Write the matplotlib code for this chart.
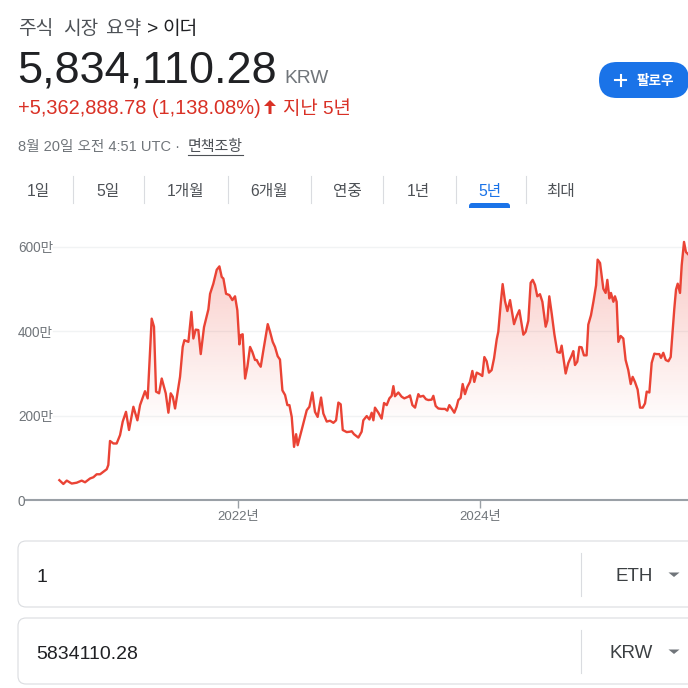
import numpy as np
import matplotlib
matplotlib.use("Agg")
from matplotlib import pyplot as plt
from matplotlib import patches
from matplotlib.colors import to_rgb

plt.rcParams['font.family'] = ['Liberation Sans', 'Noto Sans CJK KR', 'DejaVu Sans']

# ETH/KRW price, 5 years, in 만원 (10,000 KRW)
years = [
    2020.528, 2020.561, 2020.589, 2020.630, 2020.671, 2020.712, 2020.740, 2020.781, 2020.809, 2020.836,
    2020.864, 2020.891, 2020.919, 2020.932, 2020.946, 2020.974, 2021.001, 2021.029, 2021.051, 2021.078,
    2021.103, 2021.139, 2021.172, 2021.194, 2021.235, 2021.257, 2021.290, 2021.309, 2021.326, 2021.351,
    2021.373, 2021.406, 2021.428, 2021.447, 2021.464, 2021.483, 2021.524, 2021.546, 2021.560, 2021.593,
    2021.618, 2021.634, 2021.653, 2021.675, 2021.695, 2021.722, 2021.758, 2021.772, 2021.799, 2021.827,
    2021.849, 2021.868, 2021.882, 2021.904, 2021.931, 2021.956, 2021.978, 2021.997, 2022.014, 2022.025,
    2022.041, 2022.061, 2022.080, 2022.102, 2022.121, 2022.143, 2022.157, 2022.171, 2022.190, 2022.212,
    2022.248, 2022.267, 2022.289, 2022.308, 2022.330, 2022.349, 2022.369, 2022.391, 2022.410, 2022.427,
    2022.446, 2022.465, 2022.482, 2022.495, 2022.528, 2022.570, 2022.592, 2022.616, 2022.638, 2022.660,
    2022.688, 2022.707, 2022.735, 2022.762, 2022.790, 2022.812, 2022.831, 2022.850, 2022.867, 2022.900,
    2022.927,
    2022.941, 2022.960, 2022.996, 2023.023, 2023.037, 2023.065, 2023.087, 2023.106, 2023.120, 2023.133,
    2023.161, 2023.188, 2023.208, 2023.230, 2023.252, 2023.271, 2023.285, 2023.298, 2023.326, 2023.353,
    2023.375, 2023.408, 2023.422, 2023.442, 2023.464, 2023.491, 2023.505, 2023.532, 2023.554, 2023.574,
    2023.601, 2023.615, 2023.634, 2023.656, 2023.684, 2023.711, 2023.730, 2023.747, 2023.766, 2023.788,
    2023.807, 2023.821, 2023.840, 2023.857, 2023.876, 2023.895, 2023.917, 2023.937, 2023.953, 2023.973,
    2024.000, 2024.019, 2024.036, 2024.055, 2024.074, 2024.096, 2024.116, 2024.138, 2024.151, 2024.171,
    2024.187, 2024.206, 2024.226, 2024.248, 2024.261, 2024.281, 2024.303, 2024.325, 2024.344, 2024.358,
    2024.377, 2024.399, 2024.418, 2024.435, 2024.454, 2024.473, 2024.495, 2024.515, 2024.542, 2024.556,
    2024.572, 2024.592, 2024.614, 2024.638, 2024.660, 2024.674, 2024.707, 2024.729, 2024.757, 2024.770,
    2024.784, 2024.803, 2024.820, 2024.839, 2024.858, 2024.880, 2024.894, 2024.916, 2024.936, 2024.958,
    2024.971, 2024.991, 2025.018, 2025.037, 2025.051, 2025.068, 2025.081, 2025.101, 2025.114, 2025.128,
    2025.142, 2025.161, 2025.183, 2025.202, 2025.224, 2025.244, 2025.260, 2025.279, 2025.301, 2025.321,
    2025.343, 2025.362, 2025.376, 2025.398, 2025.417, 2025.439, 2025.458, 2025.480, 2025.494, 2025.513,
    2025.533, 2025.555, 2025.574, 2025.590, 2025.604, 2025.618, 2025.632, 2025.651, 2025.665, 2025.684,
    2025.700, 2025.717,
]
prices = [
    47, 38, 46, 39, 41, 46, 42, 51, 54, 61,
    61, 67, 73, 83, 140, 134, 134, 154, 186, 209,
    166, 221, 189, 225, 258, 241, 430, 411, 257, 253,
    288, 253, 207, 253, 245, 217, 292, 363, 379, 375,
    446, 383, 404, 403, 346, 410, 452, 489, 513, 546,
    554, 529, 525, 489, 486, 474, 483, 450, 369, 391,
    393, 288, 316, 363, 351, 332, 332, 324, 316, 355,
    417, 399, 375, 363, 341, 333, 260, 249, 225, 225,
    197, 126, 156, 130, 166, 213, 221, 255, 209, 197,
    243, 205, 186, 188, 183, 189, 231, 227, 166, 161,
    162,
    163, 156, 148, 162, 189, 199, 191, 207, 189, 219,
    207, 193, 230, 225, 241, 247, 270, 246, 255, 245,
    241, 245, 248, 225, 219, 251, 245, 247, 239, 237,
    238, 247, 223, 217, 216, 216, 212, 225, 217, 207,
    221, 237, 242, 275, 251, 268, 280, 306, 280, 302,
    298, 294, 339, 329, 302, 308, 336, 381, 399, 466,
    512, 472, 448, 474, 452, 417, 436, 450, 417, 392,
    399, 425, 515, 522, 510, 483, 488, 470, 411, 425,
    483, 442, 393, 351, 349, 366, 300, 325, 343, 353,
    320, 328, 363, 362, 343, 343, 416, 438, 470, 509,
    570, 562, 501, 491, 522, 478, 491, 470, 483, 470,
    375, 389, 383, 332, 308, 275, 292, 280, 262, 219,
    219, 229, 257, 255, 325, 347, 346, 346, 337, 349,
    332, 329, 339, 399, 454, 499, 513, 491, 557, 612,
    588, 583,
]
y_ticks = [0, 200, 400, 600]
y_tick_labels = ['0', '200만', '400만', '600만']
x_ticks = [2022, 2024]
x_tick_labels = ['2022년', '2024년']
tabs = ['1일', '5일', '1개월', '6개월', '연중', '1년', '5년', '최대']
selected_tab = '5년'

RED = '#ea4335'
TXT_RED = '#d93025'
BLUE = '#1a73e8'
GRAY = '#70757a'
DARK = '#202124'

fig = plt.figure(figsize=(6.88, 6.88), dpi=100)

# pixel-space canvas for the page furniture
ui = fig.add_axes([0, 0, 1, 1], zorder=0)
ui.set_xlim(0, 688)
ui.set_ylim(688, 0)
ui.axis('off')

# breadcrumb, word by word (the page font has wider spaces)
for x, w in zip([18, 63, 106], ['주식', '시장', '요약']):
    ui.text(x, 34, w, fontsize=13.8, color='#4d5156', va='baseline')
ui.text(147, 34, '>', fontsize=13.8, color=DARK, va='baseline')
ui.text(162, 34, '이더', fontsize=13.8, color=DARK, va='baseline')

ui.text(17, 83, '5,834,110.28', fontsize=32.5, color=DARK, va='baseline')
ui.text(284, 83, 'KRW', fontsize=13.8, color=GRAY, va='baseline')
ui.text(18, 114, '+5,362,888.78 (1,138.08%)', fontsize=14.4, color=TXT_RED, va='baseline')
ui.add_patch(patches.FancyArrow(270, 114, 0, -14, width=3, head_width=12, head_length=6,
                                length_includes_head=True, color=TXT_RED, lw=0))
ui.text(283, 114, '지난 5년', fontsize=13.6, color=TXT_RED, va='baseline')
ui.text(18, 151, '8월 20일 오전 4:51 UTC · ', fontsize=10.5, color=GRAY, va='baseline')
ui.text(188, 151, '면책조항', fontsize=10.8, color='#4d5156', va='baseline')
ui.plot([188, 243], [154.5, 154.5], color='#4d5156', lw=0.8)

# follow button
ui.add_patch(patches.FancyBboxPatch((599, 62), 90, 36, boxstyle='round,pad=0,rounding_size=18',
                                    fc=BLUE, ec='none'))
ui.plot([615, 626], [80, 80], color='white', lw=1.5)
ui.plot([620.5, 620.5], [74.5, 85.5], color='white', lw=1.5)
ui.text(655, 80.5, '팔로우', fontsize=9.8, color='white', fontweight='bold', ha='center', va='center')

# range tabs
tab_x = [38, 108, 186, 269, 347, 418, 490, 561]
for cx, lab in zip(tab_x, tabs):
    ui.text(cx, 196, lab, fontsize=11.3, ha='center', va='baseline',
            color=BLUE if lab == selected_tab else '#4d5156')
for sx in [73, 144, 228, 311, 383, 456, 526]:
    ui.plot([sx, sx], [176, 203], color='#dadce0', lw=0.8)
ui.add_patch(patches.FancyBboxPatch((469, 203), 41, 8, boxstyle='round,pad=0,rounding_size=3',
                                    fc=BLUE, ec='none'))
ui.add_patch(patches.Rectangle((465, 208), 50, 5, fc='white', ec='none'))

# converter boxes
for top, num, cur in [(541, '1', 'ETH'), (618, '5834110.28', 'KRW')]:
    ui.add_patch(patches.FancyBboxPatch((18, top), 720, 66, boxstyle='round,pad=0,rounding_size=8',
                                        fc='white', ec='#dadce0', lw=0.8))
    ui.plot([581, 581], [top + 12, top + 55], color='#dadce0', lw=0.8)
    ui.text(36, top + 41, num, fontsize=14, color=DARK, va='baseline')
    ui.text(653, top + 40, cur, fontsize=13.5, color='#3c4043', va='baseline', ha='right')
    ui.add_patch(patches.Polygon([(668.5, top + 31.5), (679.5, top + 31.5), (674, top + 36)],
                                 closed=True, fc=GRAY, ec='none'))

# price chart
ax = fig.add_axes([26 / 688, 188 / 688, 662 / 688, 269.9 / 688], zorder=1)
ax.set_facecolor('none')

for v in y_ticks[1:]:
    ax.axhline(v, xmin=27 / 662, xmax=1, color='#f1f3f4', lw=1.0, zorder=0)

grad = np.zeros((256, 1, 4))
grad[..., :3] = to_rgb(RED)
yy = np.linspace(0, 640, 256)
grad[:, 0, 3] = np.clip((yy - 170) / (600 - 170), 0, 1) * 0.28
im = ax.imshow(grad, extent=[years[0], years[-1], 0, 640], origin='lower', aspect='auto',
               zorder=1, interpolation='bilinear')
poly = ax.fill_between(years, prices, 0, facecolor='none', edgecolor='none')
im.set_clip_path(poly.get_paths()[0], transform=ax.transData)

ax.plot(years, prices, color=RED, lw=1.7, solid_joinstyle='round', zorder=3)

ax.set_xlim(2020.2526, 2025.7169)
ax.set_ylim(0, 640)
for s in ['top', 'right', 'left']:
    ax.spines[s].set_visible(False)
ax.spines['bottom'].set_color('#9aa0a6')
ax.spines['bottom'].set_linewidth(1.5)

ax.set_xticks(x_ticks)
ax.set_xticklabels(x_tick_labels)
ax.tick_params(axis='x', length=5.8, width=1, color='#9aa0a6', labelcolor=GRAY,
               labelsize=9.5, pad=2)
ax.set_yticks(y_ticks)
ax.set_yticklabels(y_tick_labels)
ax.tick_params(axis='y', length=0, labelcolor=GRAY, labelsize=9.8, pad=5.8)
for lab in ax.get_yticklabels():
    lab.set_horizontalalignment('left')

fig.savefig('out.png', dpi=100)
